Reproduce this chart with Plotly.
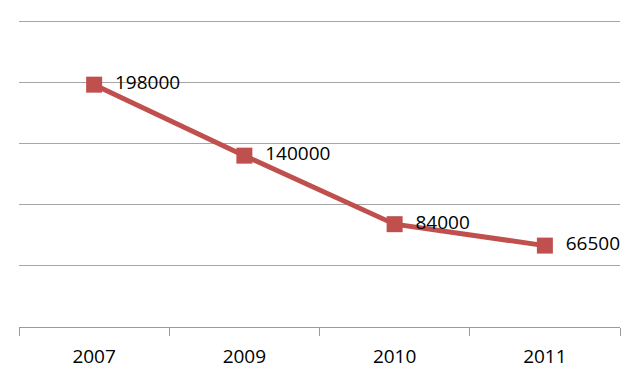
import plotly.graph_objects as go

years = ["2007", "2009", "2010", "2011"]
values = [198000, 140000, 84000, 66500]
labels = ["198000", "140000", "84000", "66500"]

fig = go.Figure()
fig.add_trace(go.Scatter(
    x=years, y=values, mode="lines+markers+text",
    text=labels, textposition="middle right", texttemplate="  %{text}",
    textfont=dict(family="Open Sans, Liberation Sans, sans-serif", size=19, color="#000000"),
    line=dict(color="#C0504D", width=5),
    marker=dict(symbol="square", size=16, color="#C0504D"),
    cliponaxis=False, showlegend=False,
))
fig.update_layout(
    width=640, height=384,
    margin=dict(l=19, r=20, t=19, b=57, autoexpand=False),
    paper_bgcolor="white", plot_bgcolor="white",
    xaxis=dict(type="category", range=[-0.5, 3.5], showgrid=False, automargin=False,
               showline=True, linecolor="#9a9a9a", linewidth=1,
               ticks="outside", tickson="boundaries", ticklen=8, tickcolor="#9a9a9a",
               ticklabelstandoff=12,
               tickfont=dict(family="Open Sans, Liberation Sans, sans-serif", size=19, color="#000000"),
               fixedrange=True),
    yaxis=dict(range=[0, 251634], tick0=0, dtick=50000, showgrid=True, gridcolor="#a6a6a6",
               gridwidth=1, showticklabels=False, zeroline=False, showline=False,
               automargin=False, fixedrange=True),
)
fig.write_html("out.html", config={"displayModeBar": False, "staticPlot": True})

with open("out.html", "r", encoding="utf-8") as f:
    html = f.read()
html = html.replace("<head>", "<head><style>html,body{margin:0;padding:0;overflow:hidden;}</style>", 1)
with open("out.html", "w", encoding="utf-8") as f:
    f.write(html)
